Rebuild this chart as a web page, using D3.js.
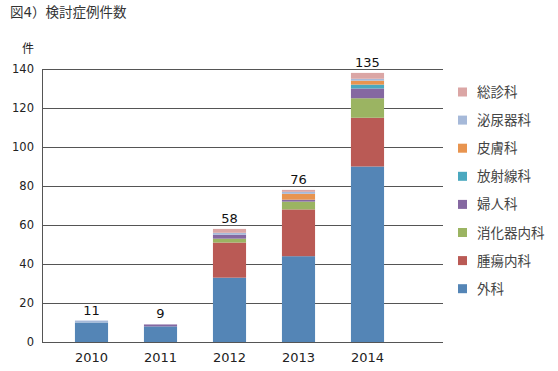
<!DOCTYPE html>
<html>
<head>
<meta charset="utf-8">
<script src="https://cdn.jsdelivr.net/npm/d3@7"></script>
<style>
  body { margin: 0; background: #fff; }
  text { font-family: "DejaVu Sans", "Noto Sans CJK JP", sans-serif; }
</style>
</head>
<body>
<svg width="558" height="371"></svg>
<script>
// data
const years = ["2010", "2011", "2012", "2013", "2014"];
const depts = ["外科", "腫瘍内科", "消化器内科", "婦人科", "放射線科", "皮膚科", "泌尿器科", "総診科"];
const geka     = [10, 8, 33, 44, 90];
const shuyo    = [0, 0, 18, 24, 25];
const shokaki  = [0, 0, 2, 4, 10];
const fujin    = [0, 1, 2, 1, 5];
const hoshasen = [0, 0, 0, 0, 2];
const hifu     = [0, 0, 0, 3, 2];
const hinyoki  = [1, 0, 1, 1, 1];
const soshin   = [0, 0, 2, 1, 3];
const totalLabels = [11, 9, 58, 76, 135];
const yTicks = [0, 20, 40, 60, 80, 100, 120, 140];

const colors = ["#5485b6", "#ba5a55", "#9bb462", "#8568a1", "#4aa8bf", "#e8944f", "#a6b9d9", "#dba6a5"];
const seriesVals = [geka, shuyo, shokaki, fujin, hoshasen, hifu, hinyoki, soshin];

const rows = years.map((yr, i) => {
  let r = { year: yr };
  depts.forEach((d, k) => r[d] = seriesVals[k][i]);
  return r;
});

const svg = d3.select("svg");

let x = d3.scaleBand().domain(years).range([57, 402]).paddingInner(0.52).paddingOuter(0.26);
let y = d3.scaleLinear().domain([0, 140]).range([342, 69]);
let color = d3.scaleOrdinal().domain(depts).range(colors);

// title
svg.append("text").attr("x", 10).attr("y", 17)
  .style("font-size", "13.5px").attr("fill", "#333")
  .text("図4）検討症例件数");

// unit
svg.append("text").attr("x", 28).attr("y", 53).attr("text-anchor", "middle")
  .style("font-size", "12px").attr("fill", "#222")
  .text("件");

// gridlines
svg.append("g").selectAll("line")
  .data(yTicks)
  .join("line")
  .attr("x1", 42).attr("x2", 443)
  .attr("y1", d => Math.round(y(d)) + 0.5).attr("y2", d => Math.round(y(d)) + 0.5)
  .attr("stroke", "#555").attr("stroke-width", 1);

// y axis
svg.append("line")
  .attr("x1", 42.5).attr("x2", 42.5)
  .attr("y1", Math.round(y(140))).attr("y2", Math.round(y(0)) + 1)
  .attr("stroke", "#555");

svg.append("g").selectAll("text")
  .data(yTicks)
  .join("text")
  .attr("x", 34).attr("y", d => y(d) + 4)
  .attr("text-anchor", "end")
  .style("font-size", "11.5px").attr("fill", "#222")
  .text(d => d);

// stacked bars
const stacked = d3.stack().keys(depts)(rows);

svg.append("g").selectAll("g")
  .data(stacked)
  .join("g")
  .attr("fill", d => color(d.key))
  .selectAll("rect")
  .data(d => d)
  .join("rect")
  .attr("x", d => x(d.data.year))
  .attr("width", x.bandwidth())
  .attr("y", d => y(d[1]))
  .attr("height", d => y(d[0]) - y(d[1]));

// redraw baseline over bars
svg.append("line")
  .attr("x1", 42).attr("x2", 443)
  .attr("y1", Math.round(y(0)) + 0.5).attr("y2", Math.round(y(0)) + 0.5)
  .attr("stroke", "#555");

// total labels above each stack
const topLayer = stacked[stacked.length - 1];
svg.append("g").selectAll("text")
  .data(years)
  .join("text")
  .attr("x", d => x(d) + x.bandwidth() / 2)
  .attr("y", (d, i) => y(topLayer[i][1]) - 6)
  .attr("text-anchor", "middle")
  .style("font-size", "13px").attr("fill", "#111")
  .text((d, i) => totalLabels[i]);

// x labels
svg.append("g").selectAll("text")
  .data(years)
  .join("text")
  .attr("x", d => x(d) + x.bandwidth() / 2)
  .attr("y", 362)
  .attr("text-anchor", "middle")
  .style("font-size", "13px").attr("fill", "#222")
  .text(d => d);

// legend
const legendOrder = depts.slice().reverse();
let lg = svg.append("g").selectAll("g")
  .data(legendOrder)
  .join("g")
  .attr("transform", (d, i) => `translate(458, ${92 + i * 28.1})`);

lg.append("rect")
  .attr("x", 0).attr("y", -4.5)
  .attr("width", 9).attr("height", 9)
  .attr("fill", d => color(d));

lg.append("text")
  .attr("x", 19).attr("y", 5)
  .style("font-size", "13.5px").attr("fill", "#444")
  .text(d => d);
</script>
</body>
</html>
